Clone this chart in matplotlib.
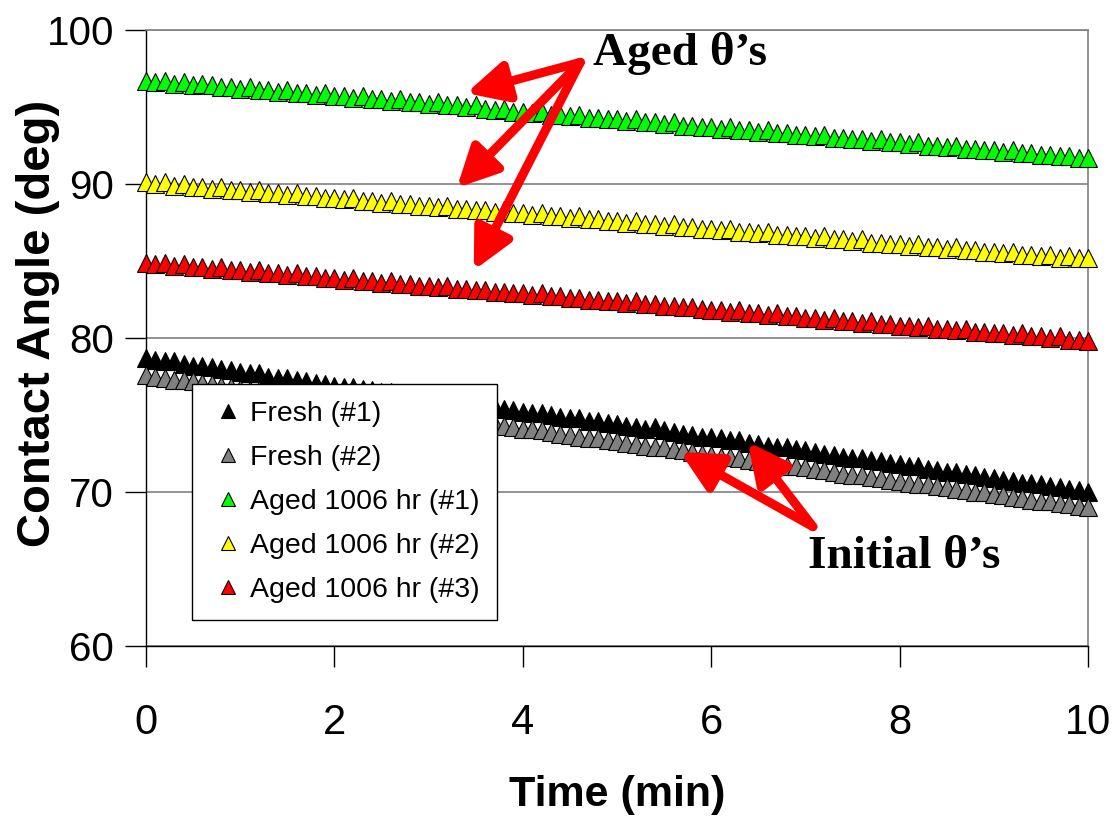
import numpy as np
import matplotlib
matplotlib.use('Agg')
import matplotlib.pyplot as plt

# time axis: one reading every 0.1 min
time_min = np.round(np.arange(101) * 0.1, 1)

fresh_1 = [
    78.7, 78.6, 78.5, 78.5, 78.3, 78.2, 78.2, 78.1, 78.0, 77.9,
    77.8, 77.7, 77.7, 77.5, 77.4, 77.4, 77.3, 77.2, 77.1, 77.0,
    76.9, 76.8, 76.8, 76.7, 76.6, 76.5, 76.5, 76.3, 76.2, 76.2,
    76.1, 76.0, 75.9, 75.8, 75.8, 75.6, 75.6, 75.5, 75.4, 75.3,
    75.2, 75.1, 75.1, 75.0, 74.9, 74.8, 74.8, 74.6, 74.6, 74.5,
    74.4, 74.3, 74.2, 74.1, 74.2, 74.0, 73.9, 73.8, 73.7, 73.6,
    73.6, 73.5, 73.4, 73.4, 73.2, 73.1, 73.0, 72.9, 72.9, 72.8,
    72.7, 72.6, 72.5, 72.4, 72.3, 72.2, 72.2, 72.1, 72.0, 71.9,
    71.8, 71.7, 71.7, 71.5, 71.4, 71.3, 71.3, 71.2, 71.1, 71.0,
    70.9, 70.8, 70.7, 70.6, 70.6, 70.5, 70.4, 70.3, 70.2, 70.1,
    70.0,
]
fresh_2 = [
    77.6, 77.5, 77.4, 77.3, 77.3, 77.2, 77.1, 77.0, 76.9, 76.8,
    76.7, 76.6, 76.6, 76.5, 76.4, 76.3, 76.2, 76.1, 76.0, 75.9,
    75.9, 75.8, 75.7, 75.6, 75.5, 75.4, 75.3, 75.2, 75.2, 75.1,
    75.0, 74.9, 74.8, 74.7, 74.6, 74.6, 74.5, 74.4, 74.3, 74.2,
    74.1, 74.1, 74.0, 73.9, 73.8, 73.7, 73.6, 73.5, 73.5, 73.4,
    73.3, 73.2, 73.1, 73.0, 72.9, 72.9, 72.8, 72.7, 72.6, 72.5,
    72.4, 72.3, 72.3, 72.2, 72.1, 72.0, 71.9, 71.8, 71.7, 71.7,
    71.6, 71.5, 71.4, 71.3, 71.2, 71.1, 71.1, 71.0, 70.9, 70.8,
    70.7, 70.6, 70.5, 70.5, 70.4, 70.3, 70.2, 70.1, 70.0, 70.0,
    69.9, 69.8, 69.7, 69.6, 69.5, 69.4, 69.4, 69.3, 69.2, 69.1,
    69.0,
]
aged_1 = [
    96.7, 96.6, 96.7, 96.5, 96.6, 96.4, 96.5, 96.4, 96.3, 96.3,
    96.2, 96.3, 96.1, 96.1, 96.0, 96.1, 95.9, 95.9, 95.8, 95.9,
    95.7, 95.7, 95.6, 95.7, 95.5, 95.5, 95.4, 95.5, 95.3, 95.3,
    95.2, 95.3, 95.1, 95.1, 95.0, 95.1, 94.9, 94.8, 94.9, 94.7,
    94.7, 94.6, 94.7, 94.5, 94.5, 94.4, 94.5, 94.3, 94.3, 94.2,
    94.2, 94.1, 94.2, 94.0, 94.0, 93.9, 94.0, 93.8, 93.8, 93.7,
    93.7, 93.6, 93.7, 93.5, 93.5, 93.4, 93.5, 93.3, 93.3, 93.2,
    93.2, 93.1, 93.2, 93.0, 93.0, 92.9, 92.9, 92.8, 92.9, 92.7,
    92.7, 92.6, 92.7, 92.5, 92.5, 92.4, 92.5, 92.3, 92.3, 92.2,
    92.2, 92.1, 92.2, 92.0, 92.0, 91.9, 91.9, 91.8, 91.8, 91.7,
    91.7,
]
aged_2 = [
    90.1, 90.0, 90.1, 89.9, 90.0, 89.8, 89.8, 89.7, 89.8, 89.6,
    89.6, 89.5, 89.6, 89.4, 89.4, 89.3, 89.4, 89.2, 89.2, 89.1,
    89.1, 89.0, 89.1, 88.9, 88.9, 88.8, 88.9, 88.7, 88.7, 88.6,
    88.6, 88.5, 88.6, 88.4, 88.4, 88.3, 88.3, 88.2, 88.3, 88.1,
    88.1, 88.0, 88.1, 87.9, 87.9, 87.8, 87.9, 87.7, 87.7, 87.6,
    87.6, 87.5, 87.6, 87.4, 87.4, 87.3, 87.4, 87.2, 87.2, 87.1,
    87.1, 87.0, 87.1, 86.9, 86.9, 86.8, 86.9, 86.7, 86.7, 86.6,
    86.6, 86.5, 86.6, 86.4, 86.4, 86.3, 86.4, 86.2, 86.2, 86.1,
    86.1, 86.0, 86.1, 85.9, 85.9, 85.8, 85.9, 85.7, 85.7, 85.6,
    85.6, 85.5, 85.6, 85.4, 85.4, 85.3, 85.4, 85.2, 85.3, 85.2,
    85.2,
]
aged_3 = [
    84.9, 84.8, 84.9, 84.7, 84.8, 84.6, 84.6, 84.5, 84.6, 84.4,
    84.4, 84.3, 84.4, 84.2, 84.2, 84.1, 84.2, 84.0, 84.0, 83.9,
    83.9, 83.8, 83.9, 83.7, 83.7, 83.6, 83.7, 83.5, 83.5, 83.4,
    83.4, 83.3, 83.4, 83.2, 83.2, 83.1, 83.1, 83.0, 83.0, 82.9,
    82.9, 82.8, 82.9, 82.7, 82.7, 82.6, 82.6, 82.5, 82.5, 82.4,
    82.4, 82.3, 82.4, 82.2, 82.2, 82.1, 82.1, 82.0, 82.0, 81.9,
    81.8, 81.8, 81.7, 81.8, 81.6, 81.6, 81.5, 81.6, 81.4, 81.4,
    81.3, 81.3, 81.2, 81.3, 81.1, 81.1, 81.0, 81.1, 80.9, 80.9,
    80.8, 80.8, 80.7, 80.8, 80.6, 80.6, 80.5, 80.6, 80.4, 80.4,
    80.3, 80.3, 80.2, 80.3, 80.1, 80.1, 80.0, 80.1, 79.9, 79.9,
    79.8,
]

series_labels = ['Fresh (#1)', 'Fresh (#2)', 'Aged 1006 hr (#1)',
                 'Aged 1006 hr (#2)', 'Aged 1006 hr (#3)']
series_values = [fresh_1, fresh_2, aged_1, aged_2, aged_3]
series_colors = ['#000000', '#808080', '#00FF00', '#FFFF00', '#FF0000']

x_ticks = [0, 2, 4, 6, 8, 10]
y_ticks = [60, 70, 80, 90, 100]

sans = ['Liberation Sans', 'DejaVu Sans']
serif = ['Liberation Serif', 'DejaVu Serif']

fig = plt.figure(figsize=(11.16, 8.16), dpi=100)
ax = fig.add_axes([0.1308, 0.2083, 0.8441, 0.7549])

for vals, lab, col in zip(series_values, series_labels, series_colors):
    ax.plot(time_min, vals, linestyle='none', marker='^', markersize=12.5,
            markerfacecolor=col, markeredgecolor='black',
            markeredgewidth=0.8, label=lab, clip_on=False, zorder=3)

ax.set_xlim(0, 10)
ax.set_ylim(60, 100)
ax.set_xticks(x_ticks)
ax.set_yticks(y_ticks)
ax.yaxis.grid(True, color='#808080', linewidth=1.2)
ax.set_axisbelow(True)

for side in ['top', 'right']:
    ax.spines[side].set_color('#808080')
    ax.spines[side].set_linewidth(1.2)
for side in ['left', 'bottom']:
    ax.spines[side].set_color('black')
    ax.spines[side].set_linewidth(1.0)

ax.tick_params(axis='both', direction='out', length=15, width=1.0, color='black')
ax.tick_params(axis='y', pad=8)
ax.tick_params(axis='x', pad=26)
for t in ax.get_yticklabels():
    t.set_fontfamily(sans)
    t.set_fontsize(29)
for t in ax.get_xticklabels():
    t.set_fontfamily(sans)
    t.set_fontsize(30)

ax.set_xlabel('Time (min)', family=sans, fontsize=31, fontweight='bold')
ax.xaxis.set_label_coords(0.5, -0.209)
ax.set_ylabel('Contact Angle (deg)', family=sans, fontsize=34, fontweight='bold')
ax.yaxis.set_label_coords(-0.091, 0.524)

leg = ax.legend(loc='lower left', bbox_to_anchor=(0.049, 0.042), borderaxespad=0,
                frameon=True, fancybox=False, framealpha=1, edgecolor='black',
                borderpad=0.6, handlelength=1.3, handletextpad=0.15,
                labelspacing=0.63, prop={'family': sans, 'size': 20.5},
                markerscale=0.85)
leg.get_frame().set_linewidth(1.0)

arrow_kw = dict(arrowstyle='-|>,head_length=0.9,head_width=0.45', color='red',
                lw=6.5, mutation_scale=27, shrinkA=0, shrinkB=0)

# Aged annotations
aged_tail = (4.61, 97.9)
for head in [(3.40, 95.9), (3.30, 89.75), (3.48, 84.4)]:
    ax.annotate('', xy=head, xytext=aged_tail, arrowprops=arrow_kw, zorder=5,
                annotation_clip=False)
ax.text(4.75, 97.7, 'Aged \u03b8\u2019s', family=serif, fontsize=34,
        fontweight='bold', ha='left', va='baseline', zorder=6)

# Initial annotations
init_tail = (7.08, 67.75)
for head in [(5.67, 72.6), (6.39, 73.25)]:
    ax.annotate('', xy=head, xytext=init_tail, arrowprops=arrow_kw, zorder=5,
                annotation_clip=False)
ax.text(7.03, 65.05, 'Initial \u03b8\u2019s', family=serif, fontsize=34,
        fontweight='bold', ha='left', va='baseline', zorder=6)

fig.savefig('out.png', dpi=100)
